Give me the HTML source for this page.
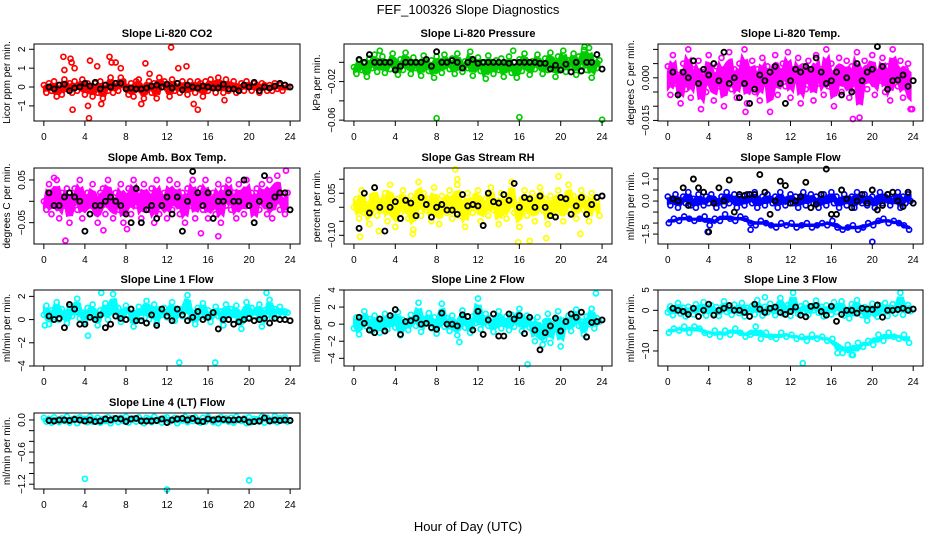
<!DOCTYPE html>
<html><head><meta charset="utf-8"><style>
html,body{margin:0;padding:0;background:#fff;}
svg{display:block;font-family:"Liberation Sans",sans-serif;}
</style></head><body>
<svg id="chart" width="936" height="540" viewBox="0 0 936 540">
<rect width="936" height="540" fill="#fff"/>
<text x="468" y="14" text-anchor="middle" font-size="13">FEF_100326  Slope Diagnostics</text>
<text x="468" y="531" text-anchor="middle" font-size="13">Hour of Day (UTC)</text>
<g id="panels"></g>
</svg>
<script>
const xTicks = [0,4,8,12,16,20,24];
const titles = ["Slope Li-820 CO2","Slope Li-820 Pressure","Slope Li-820 Temp.","Slope Amb. Box Temp.","Slope Gas Stream RH","Slope Sample Flow","Slope Line 1 Flow","Slope Line 2 Flow","Slope Line 3 Flow","Slope Line 4 (LT) Flow"];
const ylabs = ["Licor ppm per min.","kPa per min.","degrees C per min.","degrees C per min.","percent per min.","ml/min per min.","ml/min per min.","ml/min per min.","ml/min per min.","ml/min per min."];
const colors = ["#ff0000","#00cc00","#ff00ff","#ff00ff","#ffff00","#0000ff","#00ffff","#00ffff","#00ffff","#00ffff"];
const yTicks = [[-1,0,1,2],[0,-0.02,-0.04,-0.06],[0.01,0.005,0,-0.005,-0.01,-0.015],[0.05,0,-0.05],[0.1,0.05,0,-0.05,-0.1],[1.5,1,0.5,0,-0.5,-1,-1.5],[2,0,-2,-4],[4,2,0,-2,-4],[5,0,-5,-10],[0,-0.2,-0.4,-0.6,-0.8,-1.0,-1.2]];
const yTickLabels = [["−1","0","1","2"],["","−0.02","","−0.06"],["","","0.000","","","−0.015"],["0.05","","−0.05"],["","0.05","","","−0.10"],["","1.0","","0.0","","","−1.5"],["2","0","−2","−4"],["4","2","0","−2","−4"],["5","0","","−10"],["0.0","","","−0.6","","","−1.2"]];
const yLims = [[-1.8,2.28],[-0.0609,0.019],[-0.0152,0.0119],[-0.1,0.078],[-0.131,0.14],[-1.95,1.5],[-4.0,2.55],[-4.9,4.0],[-13.7,5.0],[-1.29,0.13]];

const mainVals = [
[0.1,-0.3,0.2,-0.2,0.3,-0.5,0.1,-0.4,0.4,-0.1,0.2,-0.3,0.3,-0.2,0.0,0.4,-0.4,0.2,-0.1,-0.5,0.2,-0.3,0.3,-0.6,0.1,-0.2,0.5,-0.3,0.2,-0.2,0.5,0.3,-0.1,-0.4,0.2,-0.5,0.3,0.4,-0.2,-0.6,0.1,0.3,-0.3,0.2,-0.6,0.5,0.0,0.3,-0.1,-0.5,0.4,-0.2,0.2,-0.3,0.3,0.1,-0.4,0.3,0.1,-0.3,0.3,0.2,-0.5,0.3,-0.2,0.4,0.1,-0.3,0.5,0.0,-0.3,0.4,-0.2,0.1,0.3,-0.3,0.0,0.2,-0.2,0.3,0.1,-0.2,0.2,0.1,-0.3,0.2,0.1,-0.2,0.1,-0.2,0.2,-0.1,0.1,-0.2,0.1,0.0],
[-0.005,-0.012,0.002,-0.008,-0.001,-0.015,0.004,-0.006,0.008,-0.01,-0.003,0.006,-0.011,0.0,-0.007,0.009,-0.004,-0.013,0.003,-0.008,0.01,-0.002,-0.012,0.005,-0.006,-0.001,-0.014,0.007,-0.004,-0.009,0.002,-0.016,0.006,-0.003,-0.011,0.008,-0.002,-0.007,0.004,-0.012,0.009,-0.005,-0.01,0.001,-0.006,0.011,-0.014,-0.003,0.005,-0.009,-0.001,-0.017,0.007,-0.004,-0.012,0.002,-0.008,0.004,-0.015,-0.002,0.006,-0.011,-0.005,-0.016,0.003,-0.009,0.009,-0.003,-0.013,0.001,-0.007,0.008,-0.004,-0.012,0.004,-0.008,0.01,-0.002,-0.015,0.006,-0.006,0.012,-0.01,0.002,-0.005,0.009,-0.013,0.006,-0.003,0.013,-0.008,0.015,-0.016,0.004,-0.006,0.002],
[0.004,-0.006,0.008,-0.002,0.001,-0.009,0.005,-0.004,0.010,-0.007,0.003,-0.001,0.006,-0.011,0.002,-0.005,0.008,0.000,-0.008,0.004,-0.003,0.007,-0.010,0.001,0.009,-0.004,0.003,-0.007,0.005,-0.002,0.010,-0.009,0.001,0.006,-0.005,0.003,-0.008,0.007,-0.002,0.004,-0.012,0.002,0.008,-0.006,0.000,0.005,-0.003,0.009,-0.007,0.003,-0.001,0.007,-0.009,0.004,-0.004,0.006,0.001,-0.008,0.008,-0.002,0.003,-0.006,0.010,-0.003,0.005,-0.010,0.002,0.007,-0.005,0.000,0.006,-0.007,0.004,-0.002,0.009,-0.014,0.001,0.006,-0.004,0.003,0.008,-0.006,0.002,-0.001,0.007,-0.005,0.004,-0.008,0.010,0.002,-0.003,0.006,-0.007,0.003,0.005,-0.011],
[0.0,-0.02,0.04,-0.03,0.01,0.05,-0.04,0.02,-0.01,0.03,-0.05,0.0,0.03,-0.02,0.05,-0.04,0.01,0.02,-0.03,0.04,-0.01,-0.05,0.02,0.03,-0.03,0.05,0.0,-0.04,0.02,-0.02,0.04,-0.05,0.01,0.03,-0.03,0.05,-0.01,0.02,-0.04,0.04,0.0,-0.02,0.03,-0.05,0.05,-0.03,0.01,0.02,-0.04,0.05,-0.02,0.0,0.04,-0.03,0.02,-0.05,0.03,-0.01,0.05,-0.04,0.01,0.03,-0.02,0.05,-0.04,0.0,0.02,-0.03,0.04,-0.05,0.03,-0.01,0.05,-0.02,0.02,-0.04,0.04,0.0,-0.03,0.05,-0.01,0.02,-0.05,0.03,-0.02,0.04,0.0,-0.03,0.05,-0.04,0.02,0.06,-0.02,0.01,-0.03,0.02],
[0.0,0.03,-0.04,0.06,-0.02,0.01,-0.06,0.04,0.07,-0.03,0.02,-0.01,0.05,-0.05,0.08,0.0,-0.07,0.03,-0.02,0.06,0.01,-0.04,0.04,-0.08,0.02,0.09,-0.03,0.05,-0.01,0.03,-0.05,0.07,0.0,-0.06,0.04,0.02,-0.02,0.06,-0.04,0.01,0.08,-0.03,0.03,-0.07,0.05,0.0,-0.02,0.04,0.06,-0.05,0.01,0.03,-0.03,0.07,-0.01,0.02,-0.06,0.05,0.0,-0.04,0.04,0.09,-0.02,0.01,-0.07,0.03,0.06,-0.03,0.0,0.05,-0.05,0.02,0.07,-0.01,0.03,-0.06,0.04,0.0,-0.03,0.06,0.01,-0.05,0.03,0.08,-0.02,0.04,-0.04,0.02,0.06,-0.01,0.03,-0.05,0.05,0.0,0.02,-0.03],
[0.2,-0.2,0.1,0.3,-0.3,0.0,0.2,-0.1,0.4,-0.2,0.1,-0.3,0.3,0.0,-0.2,0.2,-0.1,0.3,0.1,-0.3,0.0,0.2,-0.2,0.4,-0.1,0.1,0.3,-0.3,0.2,0.0,-0.2,0.3,0.1,-0.1,0.4,-0.3,0.0,0.2,-0.2,0.3,0.1,-0.1,0.2,-0.3,0.4,0.0,-0.2,0.1,0.3,-0.1,0.2,-0.3,0.0,0.4,-0.2,0.1,0.3,-0.1,0.2,-0.3,0.0,0.3,-0.2,0.1,0.4,-0.1,0.2,-0.3,0.0,0.3,-0.2,0.1,0.2,-0.3,0.4,0.0,-0.1,0.3,-0.2,0.1,0.2,-0.3,0.0,0.4,-0.1,0.2,0.3,-0.2,0.1,0.0,0.4,-0.3,0.2,-0.1,0.3,0.0],
[0.4,1.2,-0.4,0.8,0.2,1.5,0.0,0.9,0.5,-0.3,1.1,0.3,0.7,1.8,0.1,0.6,-0.2,1.0,0.4,1.3,0.2,-0.5,0.8,0.5,1.4,0.0,0.7,2.2,0.3,1.0,-0.2,0.6,1.2,0.4,0.9,-0.6,0.5,1.1,0.2,0.8,1.6,0.0,0.6,1.3,-0.3,0.9,0.4,1.0,0.2,0.7,1.5,-0.1,0.5,0.9,0.3,1.2,2.1,0.1,0.6,-0.4,1.0,0.4,1.4,0.2,0.8,-0.2,0.6,1.1,0.3,0.7,-0.5,1.3,0.5,0.9,0.0,1.2,0.4,-0.8,0.7,1.5,0.2,1.0,0.3,0.6,1.3,-0.6,0.8,0.4,1.7,0.1,0.9,0.5,1.1,0.3,0.7,0.6],
[-0.5,0.8,-1.2,0.3,1.5,-0.3,0.6,-0.8,1.0,0.0,-1.0,0.4,1.2,-0.6,0.2,0.9,-0.4,1.4,-1.3,0.5,0.0,-0.7,1.1,0.3,-0.2,2.5,-0.9,0.6,0.1,1.3,-0.5,0.8,-1.1,0.2,2.4,-0.3,0.7,-0.8,1.0,0.0,-1.3,0.5,1.6,-0.4,0.3,-1.0,0.9,0.1,3.0,-0.6,0.4,1.2,-0.2,0.7,-0.9,0.0,1.5,-0.5,0.3,0.9,-0.7,1.1,-0.3,0.6,1.8,-0.8,0.2,1.0,-0.4,0.5,-2.0,0.8,-1.0,-2.4,0.3,1.2,-2.2,0.0,-0.6,1.5,-2.6,0.4,-0.3,1.0,-0.8,0.6,1.7,-0.2,0.3,-1.2,0.9,0.0,1.8,-0.5,0.7,0.3],
[-0.5,1.0,-1.2,0.3,1.8,-0.8,0.6,-1.5,0.9,0.0,-1.0,1.5,0.2,-0.6,2.0,-1.3,0.5,1.2,-0.9,0.8,-1.4,0.1,2.2,-0.4,0.7,-1.1,1.4,0.3,-0.7,1.8,-1.5,0.6,-0.2,1.1,-1.0,2.5,0.4,-1.3,0.9,-0.5,1.6,0.0,-1.2,0.8,3.0,-0.8,0.5,1.3,-1.4,4.3,0.2,-0.9,1.0,-0.3,1.7,-1.1,0.6,0.0,2.4,-0.6,0.9,-1.5,1.2,0.3,-1.0,2.0,-0.4,0.7,2.2,-1.3,0.1,-2.0,1.5,-0.7,2.5,0.0,-1.2,0.8,-2.5,0.4,1.6,-0.9,-1.6,1.2,-0.3,1.8,-1.4,0.6,1.5,-0.8,0.9,4.3,-1.1,0.5,1.3,-0.2],
[0.04,-0.03,0.02,-0.05,0.05,0.0,-0.04,0.03,-0.02,0.06,-0.05,0.01,0.03,-0.06,0.05,-0.01,0.02,-0.04,0.06,-0.03,0.0,0.04,-0.05,0.02,-0.02,0.05,-0.06,0.03,0.01,-0.04,0.04,-0.02,0.06,-0.05,0.0,0.03,-0.03,0.05,-0.01,-0.06,0.04,0.02,-0.04,0.06,-0.02,0.01,-0.05,0.03,0.05,-0.03,0.0,0.04,-0.06,0.02,-0.01,0.06,-0.04,0.03,-0.02,0.05,0.0,-0.05,0.04,-0.03,0.06,0.01,-0.04,0.02,-0.06,0.05,-0.01,0.03,-0.03,0.04,-0.05,0.06,0.0,-0.02,0.03,-0.06,0.05,-0.04,0.02,0.01,-0.03,0.06,-0.05,0.04,0.0,-0.02,0.07,-0.04,0.03,-0.01,0.05,-0.03]
];
const lowerVals = [null,null,null,null,null,
[-1.0,-0.8,-0.9,-0.7,-0.8,-0.9,-0.8,-0.7,-1.1,-0.8,-0.9,-0.6,-0.8,-0.9,-0.7,-0.8,-1.0,-1.1,-0.9,-1.0,-1.1,-1.2,-1.0,-1.1,-1.0,-1.2,-1.1,-1.0,-1.2,-1.1,-1.0,-1.1,-0.9,-1.2,-1.3,-1.2,-1.1,-1.3,-1.2,-1.0,-1.1,-0.9,-0.8,-1.0,-0.9,-1.0,-1.1,-1.3],
null,null,
[-5.5,-4.5,-5.0,-4.0,-5.5,-4.0,-4.5,-5.5,-6.0,-5.0,-6.5,-5.0,-6.0,-4.5,-5.5,-6.5,-6.0,-4.0,-7.0,-5.5,-6.5,-7.0,-5.5,-6.5,-6.0,-7.0,-6.5,-7.5,-6.0,-7.0,-6.5,-7.5,-7.0,-9.0,-10.5,-8.5,-11.0,-8.0,-9.0,-7.5,-8.5,-6.0,-7.5,-5.5,-6.5,-7.0,-6.0,-8.0],
null];
const outHours = [
[1.9,2.0,2.6,2.7,2.8,4.3,4.4,4.5,5.2,6.4,6.6,7.0,7.5,9.5,9.9,10.3,12.4,13.1,13.9,15.0,14.6,17.6,3.0,5.6],
[8.0,16.0,24.0,22.3,2.5,15.4],
[7.6,18.1,23.9],
[2.1,1.0,15.3,17.0,23.6,8.1,5.8],
[0.6,2.4,5.7,9.8,10.0,15.9,17.0,18.6,19.8,21.9],
[20.0,3.9,8.1],
[13.2,16.7,4.3,5.6,21.7,0.1],
[16.8,23.4,10.2,18.4],
[13.2,16.6,18.0,9.5],
[4.0,12.0,20.0]];
const outVals = [
[1.6,0.9,1.5,1.3,-1.2,-1.0,-1.65,1.4,1.1,1.6,1.3,1.3,1.0,-0.9,1.25,0.7,2.1,1.0,1.1,-1.2,-0.9,-0.7,1.0,-0.9],
[-0.058,-0.057,-0.0595,0.016,0.012,0.012],
[-0.012,-0.0145,-0.011],
[-0.092,0.055,-0.075,-0.082,0.072,-0.065,-0.068],
[-0.105,-0.085,-0.095,0.135,0.10,-0.125,-0.12,-0.11,0.11,-0.095],
[-1.85,-1.4,-1.3],
[-3.7,-3.7,-1.4,2.3,2.3,-0.5],
[-4.7,3.6,-2.1,-1.8],
[-13.0,-10.5,-11.0,3.2],
[-1.1,-1.3,-1.13]];
const blackVals = [
[0,-0.1,0.1,0.15,-0.2,-0.05,0,0.2,0.05,0.25,-0.1,0.1,0,0.2,0.2,-0.1,-0.05,-0.1,-0.1,-0.05,0.05,0.1,0,0.15,-0.05,0.2,-0.15,0.1,0,-0.05,0.05,0,-0.05,-0.05,0.15,-0.1,-0.1,-0.2,0.1,0,0.25,-0.2,0,-0.05,0.05,0.2,0.1,0],
[0.003,0.0,0.008,0.0,0.0,0.0,0.0,-0.008,-0.004,0.0,0.0,0.0,0.0,0.003,-0.004,0.011,0.0,0.0,0.002,0.0,-0.006,0.0,0.003,-0.001,0.0,0.0,0.0,0.0,0.0,-0.001,0.0,0.0,0.0,0.0,0.0,-0.001,-0.001,-0.007,-0.003,-0.008,-0.002,-0.01,0.0,-0.009,0.0,0.0,0.008,-0.007],
[0.002,-0.006,0.002,0.000,0.006,-0.002,0.003,0.001,0.005,-0.001,0.009,-0.002,0.000,-0.007,-0.002,-0.009,-0.004,0.001,-0.001,0.002,0.004,-0.002,-0.009,-0.001,0.003,0.002,0.004,0.003,0.007,0.002,-0.002,-0.001,0.002,-0.006,0.0,-0.005,0.005,-0.001,0.002,0.003,0.011,0.004,-0.004,-0.001,-0.0008,0.001,-0.003,-0.001],
[0.02,-0.01,-0.01,0.01,0.02,0.01,0.0,-0.07,-0.03,-0.01,-0.01,0.0,0.01,0.0,-0.01,-0.03,-0.05,0.03,-0.05,-0.02,-0.01,-0.04,-0.01,0.01,-0.03,0.01,-0.07,0.0,0.07,0.02,-0.01,0.02,-0.04,0.0,0.0,0.02,0.0,0.0,0.05,-0.01,-0.05,0.0,0.06,-0.01,0.01,0.02,0.02,-0.02],
[-0.075,0.05,-0.02,0.07,0.0,-0.085,0.0,0.02,-0.04,0.025,0.015,-0.03,0.035,0.01,-0.035,0.0,0.01,-0.01,-0.01,-0.025,0.045,0.005,0.01,0.005,-0.065,0.05,0.02,0.015,0.045,0.025,0.085,0.0,0.035,0.03,0.0,0.04,0.0,-0.03,-0.035,0.035,0.03,-0.025,0.005,0.035,-0.025,0.01,0.035,0.04],
[0.1,0.0,0.6,-0.2,1.0,0.6,0.4,-1.4,-0.1,0.6,0.0,0.95,-0.5,0.3,0.25,0.3,0.3,1.2,0.4,-0.6,0.0,0.9,0.7,-0.1,0.0,0.2,0.85,-0.3,-0.15,0.3,1.45,-0.6,-0.6,0.5,0.1,-0.3,0.0,0.3,-0.1,0.5,-0.4,-0.2,0.3,0.4,0.0,-0.25,0.4,-0.1],
[0.3,0.0,0.1,-0.7,1.3,0.9,-0.4,-0.4,0.2,0.0,0.4,-0.7,-0.4,0.3,0.1,0.0,0.9,-0.1,-0.1,-0.3,0.4,-0.5,0.9,0.3,-0.1,0.9,0.4,-0.1,0.2,0.7,0.0,0.2,0.6,-0.8,0.0,0.0,-0.4,-0.2,0.0,0.1,-0.1,0.0,0.1,-0.3,0.1,0.0,0.0,-0.1],
[0.8,0.1,-0.7,-1.0,0.6,-0.8,1.0,1.7,-1.2,0.3,0.4,0.7,0.0,0.1,-0.4,-0.6,1.3,0.0,0.0,-0.2,1.1,0.9,-0.7,1.5,-1.2,0.5,1.2,-1.4,-1.4,1.2,0.6,1.0,-1.1,0.8,-0.7,-3.0,-1.0,-0.2,0.7,-0.8,0.3,1.2,0.8,1.4,-1.5,0.2,0.3,0.5],
[0.5,0.0,-0.3,-1.0,0.5,-1.5,0.0,1.5,-1.2,0.0,0.5,1.2,0.0,0.0,-0.5,-1.5,1.5,0.3,-0.5,0.5,0.8,-0.5,-1.0,-0.3,0.8,-1.2,-1.6,1.0,1.2,-0.3,-1.2,1.0,-2.7,-1.0,0.0,0.0,-0.7,0.5,0.3,0.2,1.3,-1.7,0.0,0.0,0.2,0.5,0.0,0.3],
[-0.01,-0.02,0.0,0.0,-0.01,0.01,0.0,-0.02,0.0,-0.03,-0.02,0.02,0.0,0.03,0.02,-0.03,0.02,0.03,-0.02,-0.02,-0.02,-0.01,0.02,-0.05,0.0,0.02,0.03,0.0,0.03,-0.02,-0.03,0.02,0.0,0.02,0.01,0.0,0.0,0.01,0.01,-0.04,-0.03,-0.02,0.04,-0.02,0.0,-0.01,0.0,-0.01]];

const NS = "http://www.w3.org/2000/svg";
const colL = [34,344,658], colR = [300,612,923];
const rowT = [44,168,290,413], rowB = [121,244,366,489];
const root = document.getElementById('panels');
function mk(tag, attrs, parent){ const e=document.createElementNS(NS,tag); for(const k in attrs) e.setAttribute(k,attrs[k]); parent.appendChild(e); return e; }
function fmtName(s){ return s.toLowerCase().replace(/[^a-z0-9]+/g,'-').replace(/^-|-$/g,''); }

function envelope(vals, step, off, xs, ys, k){
  const top = [], bot = [];
  for (let i = 0; i < vals.length; i++) {
    const w = vals.slice(Math.max(0,i-1), Math.min(vals.length,i+2));
    const hi = Math.max(...w), lo = Math.min(...w);
    const mid = w.reduce((a,b)=>a+b,0)/w.length;
    const x = xs(off + i*step).toFixed(1);
    top.push(x + ',' + ys(mid + k*(hi-mid)).toFixed(1));
    bot.unshift(x + ',' + ys(mid - k*(mid-lo)).toFixed(1));
  }
  return top.concat(bot).join(' ');
}

titles.forEach((title, p) => {
  const c = p % 3, r = Math.floor(p / 3);
  const L = colL[c], R = colR[c], T = rowT[r], B = rowB[r];
  const [ymin, ymax] = yLims[p];
  const xs = h => L + (h + 0.96) / 25.92 * (R - L);
  const ys = v => B - (v - ymin) / (ymax - ymin) * (B - T);
  const g = mk('g', {}, root);
  
  
  const col = colors[p];
  const band = mk('polygon', {points: envelope(mainVals[p], 0.25, 0, xs, ys, 0.6), fill: col, stroke: col, 'stroke-width': 2}, g);
  
  
  if (lowerVals[p]) {
    const lb = mk('polygon', {points: envelope(lowerVals[p], 0.5, 0.1, xs, ys, 0.35), fill: col, stroke: col, 'stroke-width': 2}, g);
    
    
  }
  const pts = mk('g', {fill:'none', stroke:col, 'stroke-width':1.7}, g);
  
  
  mainVals[p].forEach((v, i) => {
    const cc = mk('circle', {cx: xs(i * 0.25).toFixed(1), cy: ys(v).toFixed(1), r: 2.5}, pts);
    
    
  });
  if (lowerVals[p]) lowerVals[p].forEach((v, i) => {
    const cc = mk('circle', {cx: xs(i * 0.5 + 0.1).toFixed(1), cy: ys(v).toFixed(1), r: 2.5}, pts);
    
    
  });
  outHours[p].forEach((h, i) => {
    const cc = mk('circle', {cx: xs(h).toFixed(1), cy: ys(outVals[p][i]).toFixed(1), r: 2.5}, pts);
    
    
  });
  const bk = mk('g', {fill:'none', stroke:'#000', 'stroke-width':1.9}, g);
  
  
  blackVals[p].forEach((v, i) => {
    const cc = mk('circle', {cx: xs(0.5 + i * 0.5).toFixed(1), cy: ys(v).toFixed(1), r: 2.5}, bk);
    
    
  });
  const box = mk('rect', {x:L, y:T, width:R-L, height:B-T, fill:'none', stroke:'#000', 'stroke-width':1}, g);
  
  
  const t = mk('text', {x:(L+R)/2, y:T-7, 'text-anchor':'middle', 'font-size':11, 'font-weight':'bold'}, g);
  t.textContent = title;
  
  
  const xa = mk('g', {stroke:'#000', 'stroke-width':1}, g);
  
  
  mk('line', {x1:xs(xTicks[0]), x2:xs(xTicks[xTicks.length-1]), y1:B, y2:B}, xa);
  xTicks.forEach(tv => {
    mk('line', {x1:xs(tv), x2:xs(tv), y1:B, y2:B+5}, xa);
    const tl = mk('text', {x:xs(tv), y:B+19, 'text-anchor':'middle', 'font-size':10, stroke:'none', fill:'#000'}, xa);
    tl.textContent = tv;
    
    
  });
  const ya = mk('g', {stroke:'#000', 'stroke-width':1}, g);
  
  
  const tk = yTicks[p];
  mk('line', {x1:L, x2:L, y1:ys(Math.max(...tk)), y2:ys(Math.min(...tk))}, ya);
  tk.forEach((tv, i) => {
    mk('line', {x1:L-5, x2:L, y1:ys(tv), y2:ys(tv)}, ya);
    const lab = yTickLabels[p][i];
    if (lab) {
      const yy = ys(tv), xx = L - 9;
      const tl = mk('text', {x:xx, y:yy, 'text-anchor':'middle', 'font-size':10, stroke:'none', fill:'#000', transform:`rotate(-90 ${xx} ${yy})`}, ya);
      tl.textContent = lab;
      
      
    }
  });
  const yx = L - 24, yy = (T + B) / 2;
  const yl = mk('text', {x:yx, y:yy, 'text-anchor':'middle', 'font-size':10, transform:`rotate(-90 ${yx} ${yy})`}, g);
  yl.textContent = ylabs[p];
  
  
});
</script>
</body></html>
